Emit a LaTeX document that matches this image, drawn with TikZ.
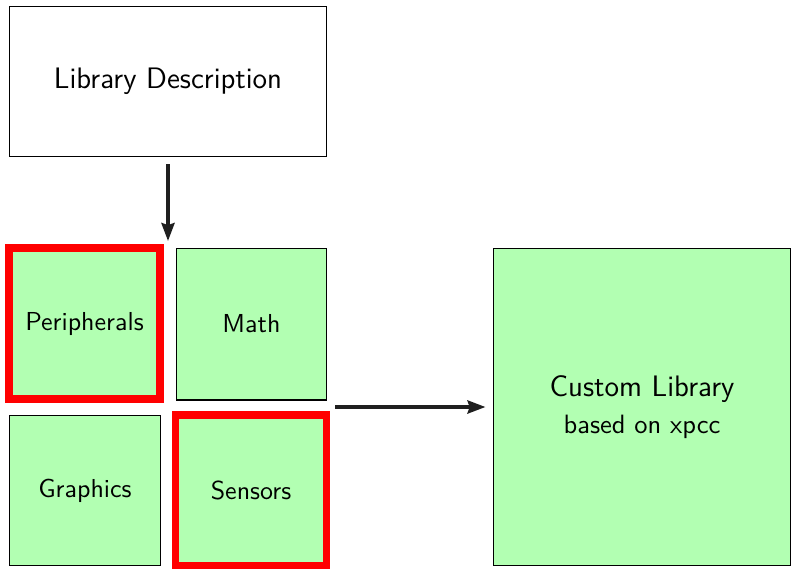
\documentclass[tikz,border=0pt]{standalone}
\usetikzlibrary{arrows.meta}
\newlength\pxu
\setlength\pxu{0.385pt}
\begin{document}
\begin{tikzpicture}[x=1\pxu, y=-1\pxu,
  every node/.style={font=\sffamily},
  box/.style={draw=black, line width=0.4pt, inner sep=0pt, align=center},
  module/.style={box, fill=green!30, minimum width=58.1pt, minimum height=58.1pt},
  picked/.style={draw=red, line width=2.9pt},
  flow/.style={draw=black!88, line width=1.4pt,
    -{Stealth[length=6.9pt, width=5pt, inset=0.8pt]}}
]
\useasboundingbox (0,0) rectangle (791,568);

% description of the library
\node[box, minimum width=122.4pt, minimum height=58.1pt,
  font=\sffamily\fontsize{11.4}{13.5}\selectfont] (lib) at (168,81.5) {Library Description};

% the four modules
\node[module, picked] (per)  at (84.5,323.5) {Peripherals};
\node[module, minimum height=58.5pt] (math) at (251.5,324) {Math};
\node[module, minimum width=58.5pt] (gfx)  at (85,490.5) {Graphics};
\node[module, picked] (sens) at (251,490.5) {Sensors};

% resulting library
\node[box, fill=green!30, minimum width=114.7pt, minimum height=122.4pt,
  font=\sffamily\fontsize{11.4}{14.2}\selectfont] (cust) at (642,407)
  {Custom Library\\{\fontsize{10.2}{14.2}\selectfont based on xpcc}};

% connectors
\coordinate (split) at (168,241);
\coordinate (grid) at (335,407);
\draw[flow, shorten <=2.7pt] (lib.south) -- (split);
\draw[flow, shorten >=2.7pt] (grid) -- (cust.west);
\end{tikzpicture}
\end{document}
